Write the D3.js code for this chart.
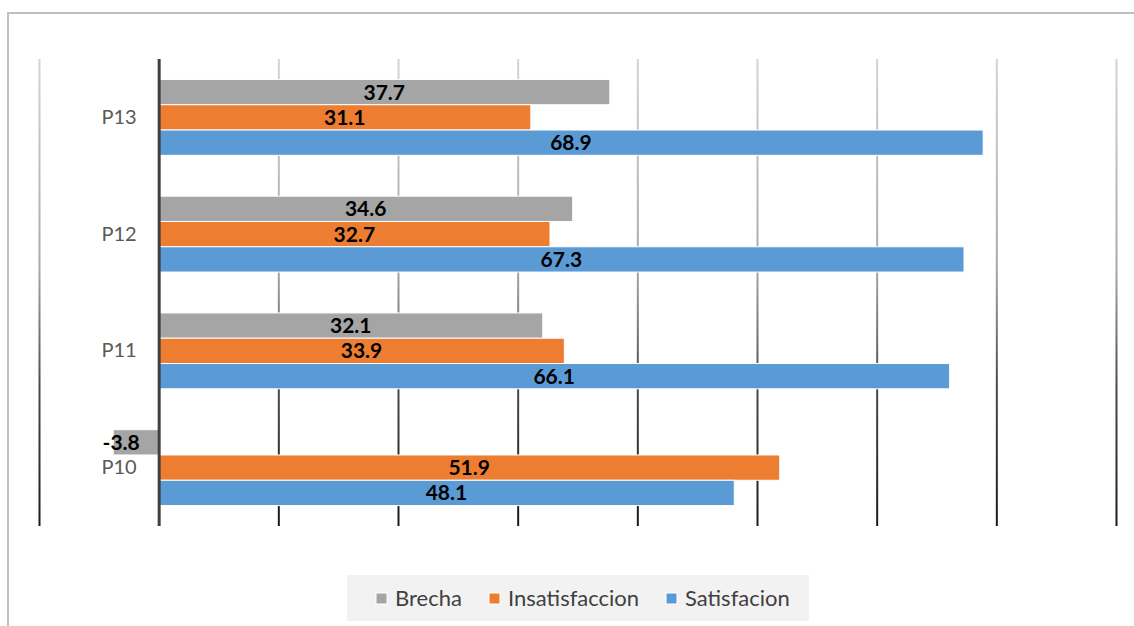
<!DOCTYPE html>
<html>
<head>
<meta charset="utf-8">
<script src="https://cdn.jsdelivr.net/npm/d3@7"></script>
<style>
  html, body { margin: 0; padding: 0; background: #fff; }
  svg { display: block; font-family: Lato, "Open Sans", sans-serif; }
</style>
</head>
<body>
<svg id="chart" width="1134" height="626"></svg>
<script>
// ---- data ----
const categories = ["P10", "P11", "P12", "P13"];
const seriesNames = ["Brecha", "Insatisfaccion", "Satisfacion"];
const brecha = [-3.8, 32.1, 34.6, 37.7];
const insatisfaccion = [51.9, 33.9, 32.7, 31.1];
const satisfacion = [48.1, 66.1, 67.3, 68.9];
const tickValues = [-10, 0, 10, 20, 30, 40, 50, 60, 70, 80];

const seriesValues = [brecha, insatisfaccion, satisfacion];
const colors = ["#a5a5a5", "#ed7d31", "#5b9bd5"];

const svg = d3.select("#chart");
const W = 1134, H = 626;

// outer border
svg.append("rect").attr("x", 8).attr("y", 13).attr("width", 1140).attr("height", 630)
  .attr("fill", "#fff").attr("stroke", "#bfbfbf").attr("stroke-width", 2);

const plot = { left: 39, right: 1116, top: 59, bottom: 526 };
const ph = plot.bottom - plot.top;

const x = d3.scaleLinear().domain([-10, 80]).range([plot.left, plot.right]);
// top category is P13 -> reverse order
const y = d3.scaleBand().domain(categories.slice().reverse())
  .range([plot.top, plot.bottom]).paddingInner(0.35).paddingOuter(0.175);
const ySub = d3.scaleBand().domain(seriesNames).range([0, y.bandwidth()]);

// gradient for gridlines
const defs = svg.append("defs");
const grad = defs.append("linearGradient").attr("id", "gridGrad")
  .attr("gradientUnits", "userSpaceOnUse")
  .attr("x1", 0).attr("y1", -ph).attr("x2", 0).attr("y2", 0);
grad.append("stop").attr("offset", 0).attr("stop-color", "#d4d4d4");
grad.append("stop").attr("offset", 0.45).attr("stop-color", "#a8a8a8");
grad.append("stop").attr("offset", 0.7).attr("stop-color", "#4a4a4a");
grad.append("stop").attr("offset", 1).attr("stop-color", "#1a1a1a");

// gridlines
const gx = svg.append("g").attr("transform", `translate(0,${plot.bottom})`)
  .call(d3.axisBottom(x).tickValues(tickValues.filter(v => v !== 0)).tickSize(-ph).tickFormat(""));
gx.select(".domain").remove();
gx.selectAll(".tick line").attr("stroke", "url(#gridGrad)").attr("stroke-width", 2);

// bars
const groups = svg.append("g").selectAll("g")
  .data(categories).join("g")
  .attr("transform", d => `translate(0,${y(d)})`);

groups.each(function(cat, ci) {
  const g = d3.select(this);
  seriesNames.forEach((s, si) => {
    const v = seriesValues[si][ci];
    const x0 = x(Math.min(0, v)), x1 = x(Math.max(0, v));
    g.append("rect")
      .attr("x", x0).attr("y", ySub(s))
      .attr("width", x1 - x0).attr("height", ySub.bandwidth())
      .attr("fill", colors[si]).attr("stroke", "#fff").attr("stroke-width", 1);
  });
});

// zero axis
svg.append("g").attr("transform", `translate(0,${plot.bottom})`)
  .call(d3.axisBottom(x).tickValues([0]).tickSize(-ph).tickFormat(""))
  .call(g => g.select(".domain").remove())
  .selectAll(".tick line").attr("stroke", "#404040").attr("stroke-width", 3);

// data labels
groups.each(function(cat, ci) {
  const g = d3.select(this);
  seriesNames.forEach((s, si) => {
    const v = seriesValues[si][ci];
    const cx = v < 0 ? x(v) + 8 : (x(0) + x(v)) / 2;
    g.append("text")
      .attr("x", cx).attr("y", ySub(s) + ySub.bandwidth() / 2)
      .attr("dy", "0.36em").attr("text-anchor", "middle")
      .attr("font-weight", "bold").attr("font-size", 21).attr("fill", "#000")
      .text(v.toFixed(1));
  });
});

// category labels
const gy = svg.append("g").attr("transform", `translate(${x(0)},0)`)
  .call(d3.axisLeft(y).tickSize(0).tickPadding(22));
gy.select(".domain").remove();
gy.selectAll("text").attr("font-size", 20).attr("fill", "#595959")
  .attr("font-family", "Lato, 'Open Sans', sans-serif");

// legend
const legend = svg.append("g");
legend.append("rect").attr("x", 347).attr("y", 575).attr("width", 462).attr("height", 46)
  .attr("fill", "#f2f2f2");
const legendX = [376, 489, 666];
seriesNames.forEach((s, i) => {
  legend.append("rect").attr("x", legendX[i]).attr("y", 593).attr("width", 11).attr("height", 11)
    .attr("fill", colors[i]).attr("stroke", "#fff").attr("stroke-width", 1);
  legend.append("text").attr("x", legendX[i] + 19).attr("y", 606)
    .attr("font-size", 22).attr("fill", "#404040").text(s);
});
</script>
</body>
</html>
